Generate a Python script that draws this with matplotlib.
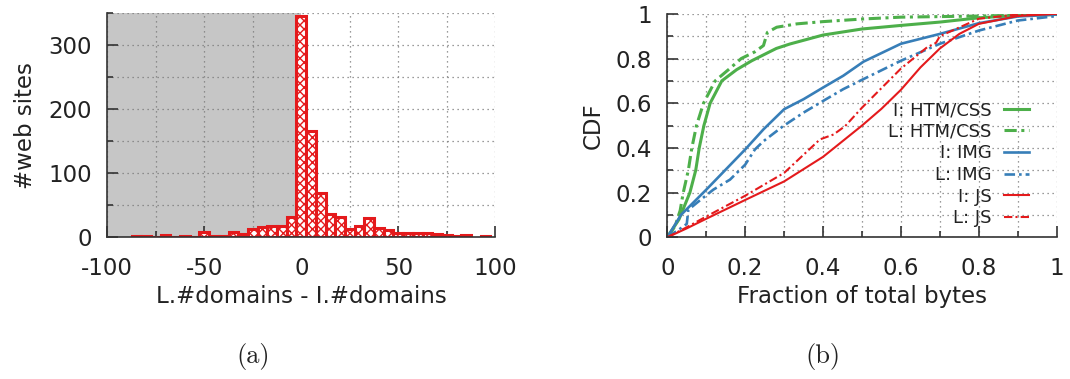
import matplotlib
matplotlib.use("Agg")
import matplotlib.pyplot as plt
from matplotlib.ticker import MultipleLocator

# ---------------- data ----------------
# (a) histogram of L.#domains - I.#domains (bins of width 5)
bin_centers = [-90, -85, -80, -75, -70, -65, -60, -55, -50, -45, -40, -35, -30, -25,
               -20, -15, -10, -5, 0, 5, 10, 15, 20, 25, 30, 35, 40, 45, 50, 55,
               60, 65, 70, 75, 80, 85, 90, 95]
site_counts = [0, 2, 2, 1, 3, 1, 2, 1, 8, 2, 2, 9, 5, 13,
               16, 17, 18, 31, 346, 166, 69, 36, 31, 13, 18, 30, 14, 12, 7, 6,
               6, 6, 5, 4, 2, 3, 0, 2]

# (b) CDFs of fraction of total bytes
i_htm_x = [0, 0.03, 0.058, 0.073, 0.082, 0.094, 0.11, 0.14, 0.178, 0.217, 0.28, 0.315,
           0.40, 0.50, 0.60, 0.70, 0.80, 0.90, 1.0]
i_htm_y = [0, 0.08, 0.2, 0.3, 0.4, 0.5, 0.6, 0.7, 0.75, 0.79, 0.845, 0.865,
           0.905, 0.932, 0.948, 0.963, 0.982, 0.993, 0.997]

l_htm_x = [0, 0.02, 0.033, 0.041, 0.054, 0.063, 0.075, 0.093, 0.123, 0.157, 0.19, 0.225,
           0.247, 0.257, 0.281, 0.333, 0.40, 0.504, 0.6, 0.8, 1.0]
l_htm_y = [0, 0.05, 0.12, 0.2, 0.3, 0.4, 0.5, 0.6, 0.7, 0.75, 0.8, 0.83,
           0.858, 0.917, 0.94, 0.955, 0.965, 0.977, 0.985, 0.99, 0.997]

i_img_x = [0, 0.035, 0.1, 0.2, 0.247, 0.3, 0.35, 0.4, 0.452, 0.504, 0.6, 0.7, 0.8, 0.9, 1.0]
i_img_y = [0, 0.1, 0.213, 0.393, 0.483, 0.573, 0.618, 0.67, 0.723, 0.786, 0.866, 0.91,
           0.958, 0.988, 0.997]

l_img_x = [0, 0.041, 0.05, 0.054, 0.075, 0.118, 0.161, 0.2, 0.225, 0.247, 0.298, 0.35,
           0.40, 0.452, 0.504, 0.6, 0.7, 0.8, 0.9, 1.0]
l_img_y = [0, 0.048, 0.06, 0.123, 0.153, 0.213, 0.258, 0.325, 0.393, 0.43, 0.498, 0.558,
           0.61, 0.663, 0.708, 0.79, 0.866, 0.925, 0.97, 0.99]

i_js_x = [0, 0.05, 0.1, 0.2, 0.3, 0.4, 0.5, 0.55, 0.6, 0.65, 0.7, 0.75, 0.8, 0.9, 1.0]
i_js_y = [0, 0.04, 0.083, 0.167, 0.25, 0.36, 0.50, 0.575, 0.66, 0.76, 0.845, 0.91, 0.955,
          0.99, 1.0]

l_js_x = [0, 0.05, 0.1, 0.2, 0.3, 0.392, 0.427, 0.457, 0.5, 0.6, 0.667, 0.69, 0.7, 0.8,
          0.9, 1.0]
l_js_y = [0, 0.045, 0.093, 0.186, 0.288, 0.438, 0.46, 0.498, 0.58, 0.755, 0.85, 0.87, 0.9,
          0.978, 0.997, 1.0]

series_labels = ["I: HTM/CSS", "L: HTM/CSS", "I: IMG", "L: IMG", "I: JS", "L: JS"]

# ---------------- style ----------------
RED = "#e41a1c"
GREEN = "#4daf4a"
BLUE = "#377eb8"
TXT = "#222222"
FS = 16.5

plt.rcParams["font.family"] = ["DejaVu Sans"]
plt.rcParams["axes.unicode_minus"] = False
plt.rcParams["hatch.linewidth"] = 1.0
plt.rcParams["hatch.color"] = RED

fig = plt.figure(figsize=(10.70, 3.79), dpi=100)
ax1 = fig.add_axes([107.3 / 1070, 1 - 237.3 / 379, 388 / 1070, 224 / 379])
ax2 = fig.add_axes([667.3 / 1070, 1 - 237.3 / 379, 389.4 / 1070, 223.5 / 379])


def style_axes(ax):
    for s in ("top", "right"):
        ax.spines[s].set_visible(False)
    for s in ("left", "bottom"):
        ax.spines[s].set_color("#333333")
        ax.spines[s].set_linewidth(1.2)
    ax.tick_params(which="both", direction="in", colors="#333333", labelcolor=TXT,
                   labelsize=FS, top=False, right=False)
    ax.tick_params(which="major", length=8, width=1.2)
    ax.tick_params(which="minor", length=4, width=1.2)
    ax.tick_params(axis="x", which="major", pad=14)
    ax.tick_params(axis="y", which="major", pad=11)
    ax.grid(True, which="both", linestyle=(0, (1, 3)), color="#7a7a7a", linewidth=0.9)
    ax.set_axisbelow(True)


# ---------------- (a) ----------------
style_axes(ax1)
ax1.axvspan(-100, 0, color="#c6c6c6", zorder=0, lw=0)
xs = [c for c, v in zip(bin_centers, site_counts) if v > 0]
vs = [v for v in site_counts if v > 0]
ax1.bar(xs, vs, width=5, color="white", edgecolor=RED, hatch="xxxx",
        linewidth=2.2, zorder=2)
ax1.set_xlim(-100, 100)
ax1.set_ylim(0, 350)
ax1.xaxis.set_major_locator(MultipleLocator(50))
ax1.xaxis.set_minor_locator(MultipleLocator(25))
ax1.yaxis.set_major_locator(MultipleLocator(100))
ax1.yaxis.set_minor_locator(MultipleLocator(50))
ax1.set_xlabel("L.#domains - I.#domains", fontsize=FS, color=TXT, labelpad=4)
ax1.set_ylabel("#web sites", fontsize=FS, color=TXT, labelpad=8)

# ---------------- (b) ----------------
style_axes(ax2)
dd = (0, (4, 1.5, 1, 1.5))
ax2.plot(i_htm_x, i_htm_y, color=GREEN, lw=2.2, label=series_labels[0])
ax2.plot(l_htm_x, l_htm_y, color=GREEN, lw=2.2, linestyle=dd, label=series_labels[1])
ax2.plot(i_img_x, i_img_y, color=BLUE, lw=1.9, label=series_labels[2])
ax2.plot(l_img_x, l_img_y, color=BLUE, lw=1.9, linestyle=dd, label=series_labels[3])
ax2.plot(i_js_x, i_js_y, color=RED, lw=1.5, label=series_labels[4])
ax2.plot(l_js_x, l_js_y, color=RED, lw=1.5, linestyle=dd, label=series_labels[5])
ax2.set_xlim(0, 1)
ax2.set_ylim(0, 1)
ax2.xaxis.set_major_locator(MultipleLocator(0.2))
ax2.xaxis.set_minor_locator(MultipleLocator(0.1))
ax2.yaxis.set_major_locator(MultipleLocator(0.2))
ax2.yaxis.set_minor_locator(MultipleLocator(0.1))
fmt = lambda v, p: ("%g" % round(v, 3))
ax2.xaxis.set_major_formatter(fmt)
ax2.yaxis.set_major_formatter(fmt)
ax2.set_xlabel("Fraction of total bytes", fontsize=FS, color=TXT, labelpad=4)
ax2.set_ylabel("CDF", fontsize=FS, color=TXT, labelpad=8)
leg = ax2.legend(loc="lower right", bbox_to_anchor=(0.93, 0.045), frameon=False,
                 markerfirst=False, fontsize=13, handlelength=1.4,
                 handletextpad=0.7, labelspacing=0.2, borderpad=0, borderaxespad=0)
for t in leg.get_texts():
    t.set_color(TXT)

# captions
fig.text(253 / 1070, 1 - 357 / 379, "(a)", fontsize=19, family="cmr10",
         ha="center", va="center", color=TXT)
fig.text(823 / 1070, 1 - 357 / 379, "(b)", fontsize=19, family="cmr10",
         ha="center", va="center", color=TXT)

fig.savefig("out.png", dpi=100)
